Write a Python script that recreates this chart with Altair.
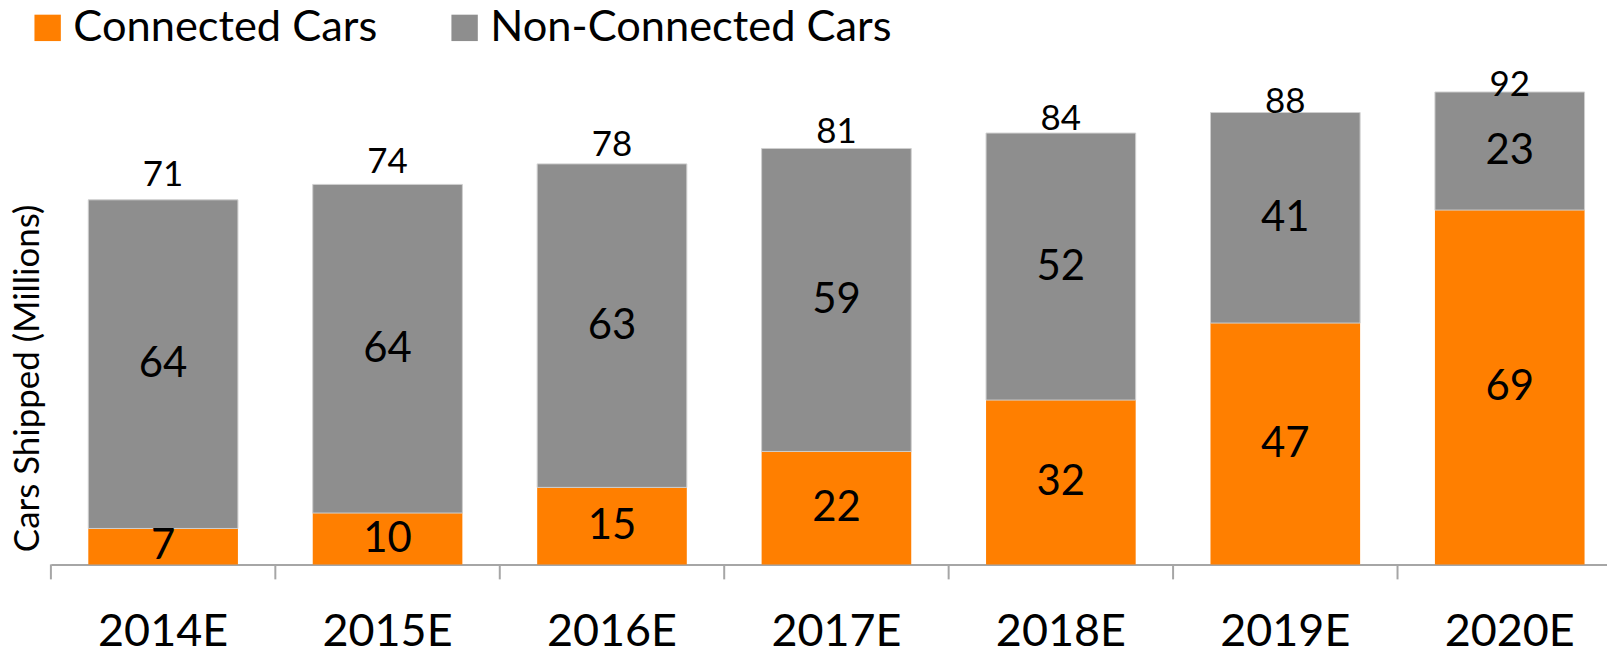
import altair as alt
import pandas as pd

years = ["2014E", "2015E", "2016E", "2017E", "2018E", "2019E", "2020E"]
connected = [7, 10, 15, 22, 32, 47, 69]
non_connected = [64, 64, 63, 59, 52, 41, 23]
totals = [71, 74, 78, 81, 84, 88, 92]
series = ["Connected Cars", "Non-Connected Cars"]
colors = ["#FF7F00", "#8E8E8E"]

rows = []
for yr, c, n in zip(years, connected, non_connected):
    rows.append({"year": yr, "series": series[0], "value": c, "order": 0, "mid": c / 2})
    rows.append({"year": yr, "series": series[1], "value": n, "order": 1, "mid": c + n / 2})
df = pd.DataFrame(rows)
tot = pd.DataFrame({"year": years, "total": totals})

FONT = "Lato"

xscale = alt.Scale(range=[0, 1575], paddingInner=1 / 3, paddingOuter=1 / 6)
yscale = alt.Scale(domain=[0, 108.2], nice=False, zero=True)

x_enc = alt.X(
    "year:N",
    sort=years,
    scale=xscale,
    axis=alt.Axis(
        title=None,
        labelFont=FONT,
        labelFontSize=45,
        labelColor="black",
        labelAngle=0,
        labelPadding=45,
        ticks=False,
        tickSize=0,
        domainColor="#A6A6A6",
        domainWidth=2,
        grid=False,
    ),
)

bars = alt.Chart(df).mark_bar(strokeWidth=1).encode(
    x=x_enc,
    y=alt.Y(
        "value:Q",
        stack="zero",
        scale=yscale,
        axis=alt.Axis(
            title="Cars Shipped (Millions)",
            labels=False,
            ticks=False,
            domain=False,
            grid=False,
            titleFont=FONT,
            titleFontSize=35,
            titleFontWeight="normal",
            titleColor="black",
            titleAngle=270,
            titleX=-23,
            titleY=370,
            titleAlign="center",
            titleBaseline="middle",
        ),
    ),
    color=alt.Color(
        "series:N",
        sort=series,
        scale=alt.Scale(domain=series, range=colors),
        legend=alt.Legend(
            title=None,
            orient="none",
            legendX=-25,
            legendY=-3,
            direction="horizontal",
            symbolType="square",
            symbolSize=700,
            symbolStrokeWidth=0,
            labelFont=FONT,
            labelFontSize=43.5,
            labelColor="black",
            labelOffset=4,
            labelLimit=1000,
            columnPadding=65,
            padding=0,
        ),
    ),
    order=alt.Order("order:Q", sort="ascending"),
    stroke=alt.condition(
        "datum.series == 'Non-Connected Cars'", alt.value("#CFCFCF"), alt.value("transparent")
    ),
)

inner = alt.Chart(df).mark_text(font=FONT, fontSize=42, color="black", baseline="middle").encode(
    x=alt.X("year:N", sort=years),
    y=alt.Y("mid:Q", scale=yscale, axis=None),
    text="value:Q",
)

tot_text = alt.Chart(tot).mark_text(font=FONT, fontSize=35, color="black", baseline="middle").encode(
    x=alt.X("year:N", sort=years),
    y=alt.Y("total:Q", scale=alt.Scale(domain=[-19.7, 109.8], nice=False, zero=False), axis=None),
    text="total:Q",
)

ticks = alt.Chart(tot).mark_rule(color="#A6A6A6", strokeWidth=2, xOffset=-37.5).encode(
    x=alt.X("year:N", sort=years, bandPosition=0),
    y=alt.value(557),
    y2=alt.value(572),
)

chart = (
    alt.layer(bars, inner, tot_text, ticks)
    .resolve_scale(y="independent")
    .properties(
        width=1560,
        height=557,
        autosize=alt.AutoSizeParams(type="none"),
        padding={"left": 43, "top": 0, "right": 0, "bottom": 84},
        background="white",
    )
    .configure_view(strokeWidth=0)
)

chart.save("out.html", embed_options={"renderer": "svg", "actions": False})
